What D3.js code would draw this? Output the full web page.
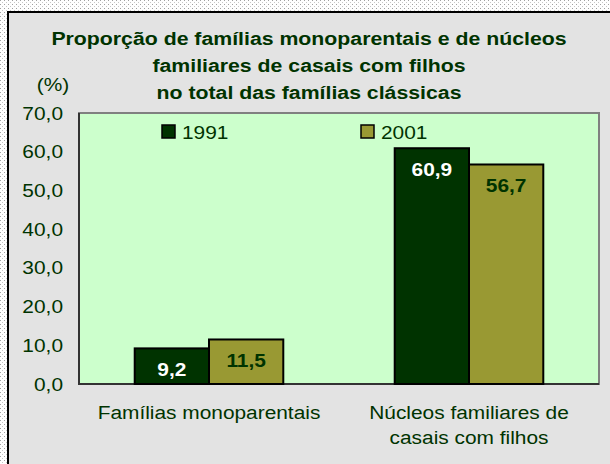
<!DOCTYPE html>
<html>
<head>
<meta charset="utf-8">
<script src="https://cdn.jsdelivr.net/npm/d3@7"></script>
<style>
  body { margin: 0; padding: 0; background: #fff; }
  svg { display: block; font-family: "Liberation Sans", Arial, sans-serif; }
</style>
</head>
<body>
<div id="chart"></div>
<script>
// Chart data
const categories = [["Famílias monoparentais"], ["Núcleos familiares de", "casais com filhos"]];
const years = ["1991", "2001"];
const values1991 = [9.2, 60.9];
const values2001 = [11.5, 56.7];
const yTicks = [0, 10, 20, 30, 40, 50, 60, 70];
const titleLines = ["Proporção de famílias monoparentais e de núcleos", "familiares de casais com filhos", "no total das famílias clássicas"];

const W = 610, H = 464;
const textColor = "#003300";
const colors = ["#003300", "#999933"];
const labelColors = ["#ffffff", "#003300"];
const sx = 1.16; // horizontal stretch of the original text

const locale = d3.formatLocale({decimal: ",", thousands: ".", grouping: [3], currency: ["", ""]});
const fmt = locale.format(".1f");

const svg = d3.select("#chart").append("svg")
    .attr("width", W)
    .attr("height", H);

// dotted page background
const defs = svg.append("defs");
const pat = defs.append("pattern")
    .attr("id", "dots")
    .attr("width", 4).attr("height", 4)
    .attr("patternUnits", "userSpaceOnUse");
pat.append("rect").attr("width", 4).attr("height", 4).attr("fill", "#ffffff");
pat.append("rect").attr("x", 0).attr("y", 0).attr("width", 1).attr("height", 1).attr("fill", "#a0a0a0");
pat.append("rect").attr("x", 2).attr("y", 2).attr("width", 1).attr("height", 1).attr("fill", "#c8c8c8");
svg.append("rect").attr("width", W).attr("height", H).attr("fill", "url(#dots)");

// chart frame
svg.append("rect")
    .attr("x", 8).attr("y", 12)
    .attr("width", W).attr("height", H)
    .attr("fill", "#e3e3e3")
    .attr("stroke", "#000")
    .attr("stroke-width", 2);

function stretched(sel, x, y, k = sx) {
    return sel.append("g")
        .attr("transform", `translate(${x},${y}) scale(${k},1)`)
        .append("text");
}

// title
titleLines.forEach((t, i) => {
    stretched(svg, 309, 45 + i * 27, 1.12)
        .attr("text-anchor", "middle")
        .attr("font-size", 19)
        .attr("font-weight", "bold")
        .attr("fill", textColor)
        .text(t);
});

const plot = {left: 79, top: 113, right: 599, bottom: 384};

const x = d3.scaleBand()
    .domain(d3.range(categories.length))
    .range([plot.left, plot.right]);

const xInner = d3.scaleBand()
    .domain(years)
    .range([0, x.bandwidth()])
    .paddingOuter(0.75)
    .paddingInner(0);

const y = d3.scaleLinear()
    .domain([0, 70])
    .range([plot.bottom, plot.top]);

// plot area
svg.append("rect")
    .attr("x", plot.left).attr("y", plot.top)
    .attr("width", plot.right - plot.left)
    .attr("height", plot.bottom - plot.top)
    .attr("fill", "#ccffcc")
    .attr("stroke", "#808080")
    .attr("stroke-width", 2);
svg.append("path")
    .attr("d", `M${plot.left},${plot.top}V${plot.bottom}H${plot.right}`)
    .attr("fill", "none")
    .attr("stroke", "#333")
    .attr("stroke-width", 2);

// y axis labels
yTicks.forEach(v => {
    stretched(svg, 63, y(v) + 6.5)
        .attr("text-anchor", "end")
        .attr("font-size", 18)
        .attr("fill", textColor)
        .text(fmt(v));
});
stretched(svg, 53, 91)
    .attr("text-anchor", "middle")
    .attr("font-size", 18)
    .attr("fill", textColor)
    .text("(%)");

// bars
const series = [values1991, values2001];
series.forEach((vals, s) => {
    const g = svg.append("g");
    g.selectAll("rect")
        .data(vals)
        .enter()
        .append("rect")
        .attr("x", (d, i) => x(i) + xInner(years[s]))
        .attr("y", d => y(d))
        .attr("width", xInner.bandwidth())
        .attr("height", d => y(0) - y(d))
        .attr("fill", colors[s])
        .attr("stroke", "#000")
        .attr("stroke-width", 2);
    vals.forEach((d, i) => {
        stretched(svg, x(i) + xInner(years[s]) + xInner.bandwidth() / 2, y(d) + 28)
            .attr("text-anchor", "middle")
            .attr("font-size", 18)
            .attr("font-weight", "bold")
            .attr("fill", labelColors[s])
            .text(fmt(d));
    });
});

// category labels
categories.forEach((lines, i) => {
    lines.forEach((t, j) => {
        stretched(svg, x(i) + x.bandwidth() / 2, 419 + j * 25)
            .attr("text-anchor", "middle")
            .attr("font-size", 18)
            .attr("fill", textColor)
            .text(t);
    });
});

// legend
const legendX = [162, 361];
years.forEach((yr, s) => {
    svg.append("rect")
        .attr("x", legendX[s]).attr("y", 125)
        .attr("width", 13).attr("height", 13)
        .attr("fill", colors[s])
        .attr("stroke", "#000")
        .attr("stroke-width", 1.5);
    stretched(svg, legendX[s] + 20, 138.5)
        .attr("font-size", 18)
        .attr("fill", textColor)
        .text(yr);
});
</script>
</body>
</html>
